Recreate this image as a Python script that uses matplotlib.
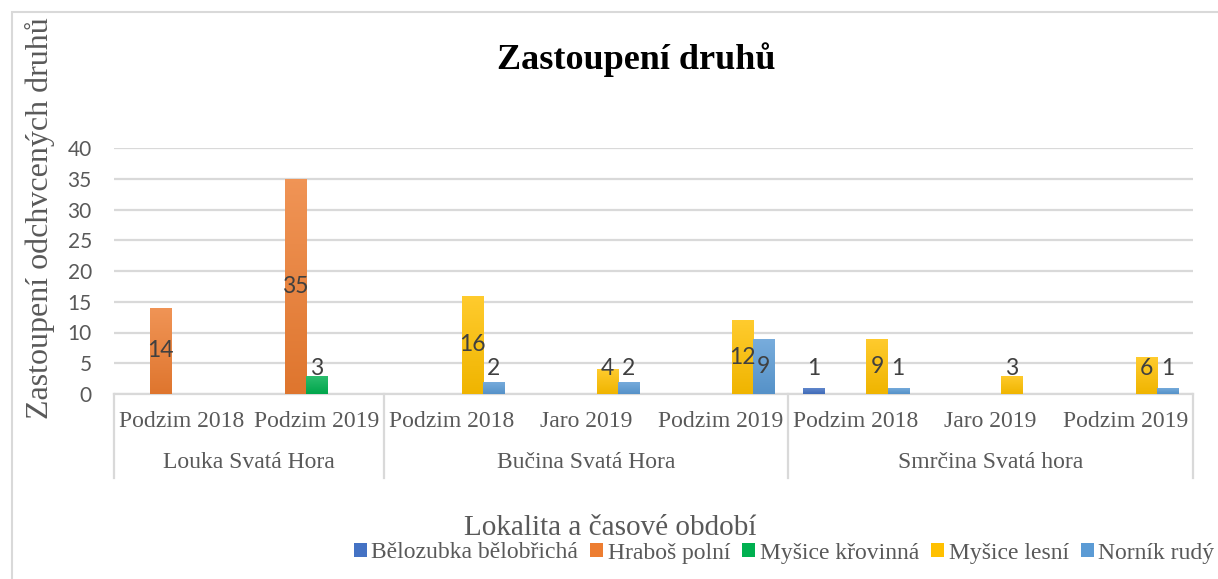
import numpy as np
import matplotlib
matplotlib.use("Agg")
from matplotlib import pyplot as plt
from matplotlib.colors import LinearSegmentedColormap, to_rgb
from matplotlib.patches import Patch, Rectangle
import matplotlib.transforms as mtransforms

# data
periods = ["Podzim 2018", "Podzim 2019",
           "Podzim 2018", "Jaro 2019", "Podzim 2019",
           "Podzim 2018", "Jaro 2019", "Podzim 2019"]
localities = ["Louka Svatá Hora", "Bučina Svatá Hora", "Smrčina Svatá hora"]
locality_sizes = [2, 3, 3]

species = ["Bělozubka bělobřichá", "Hraboš polní", "Myšice křovinná",
           "Myšice lesní", "Norník rudý"]
belozubka = [0, 0, 0, 0, 0, 1, 0, 0]
hrabos = [14, 35, 0, 0, 0, 0, 0, 0]
mysice_krovinna = [0, 3, 0, 0, 0, 0, 0, 0]
mysice_lesni = [0, 0, 16, 4, 12, 9, 3, 6]
nornik = [0, 0, 2, 2, 9, 1, 0, 1]
series = [belozubka, hrabos, mysice_krovinna, mysice_lesni, nornik]

colors = ["#4472C4", "#ED7D31", "#00B050", "#FFC000", "#5B9BD5"]

SERIF = "Liberation Serif"
SANS = "Lato"
GRID = "#d9d9d9"
TEXT = "#595959"


def shade(c, f):
    r = np.array(to_rgb(c))
    if f > 0:
        return tuple(r + (1 - r) * f)
    return tuple(r * (1 + f))


fig = plt.figure(figsize=(12.18, 5.79), dpi=100)
ax = fig.add_axes([114 / 1218, 1 - 394 / 579, (1193 - 114) / 1218, (394 - 148) / 579])

x = np.arange(len(periods))
w = 0.157
for i, (vals, col) in enumerate(zip(series, colors)):
    bars = ax.bar(x + (i - 2) * w, vals, width=w, color=col, zorder=3)
    cmap = LinearSegmentedColormap.from_list("g", [shade(col, -0.06), shade(col, 0.18)])
    for b, v in zip(bars, vals):
        if v == 0:
            b.set_visible(False)
            continue
        x0, bw, h = b.get_x(), b.get_width(), b.get_height()
        im = ax.imshow(np.linspace(0, 1, 128).reshape(-1, 1), cmap=cmap,
                       extent=[x0, x0 + bw, 0, h], origin="lower",
                       aspect="auto", zorder=4)
        im.set_clip_path(b)
        ax.text(x0 + bw / 2, max(v / 2, 4.2), str(v), ha="center", va="center",
                fontsize=16.5, family=SANS, color="#404040", zorder=5)

ax.set_xlim(-0.5, len(periods) - 0.5)
ax.set_ylim(0, 40)
ax.set_yticks(range(0, 41, 5))
ax.yaxis.grid(True, color=GRID, linewidth=1.6, zorder=0)
ax.tick_params(axis="y", length=0, pad=16, labelsize=15, labelcolor=TEXT)
for lab in ax.get_yticklabels():
    lab.set_family(SANS)
ax.set_xticks([])
for s in ["top", "right", "left"]:
    ax.spines[s].set_visible(False)
ax.spines["bottom"].set_color(GRID)
ax.spines["bottom"].set_linewidth(1.6)

# two level category axis
trans = mtransforms.blended_transform_factory(ax.transData, ax.transAxes)
for xi, p in zip(x, periods):
    ax.text(xi, -0.11, p, transform=trans, ha="center", va="center",
            fontsize=17, family=SERIF, color=TEXT)
start = -0.5
bounds = [start]
for name, n in zip(localities, locality_sizes):
    ax.text(start + n / 2, -0.28, name, transform=trans, ha="center", va="center",
            fontsize=17, family=SERIF, color=TEXT)
    start += n
    bounds.append(start)
for bx in bounds:
    ax.plot([bx, bx], [0, -0.342], transform=trans, color=GRID, linewidth=1.6,
            clip_on=False)

fig.text(636 / 1218, 1 - 60 / 579, "Zastoupení druhů", ha="center", va="center",
         fontsize=26, fontweight="bold", family=SERIF, color="black")
fig.text(40 / 1218, 1 - 218 / 579, "Zastoupení odchvcených druhů", rotation=90,
         ha="center", va="center", fontsize=23, family=SERIF, color=TEXT)
fig.text(610 / 1218, 1 - 528 / 579, "Lokalita a časové období", ha="center",
         va="center", fontsize=21, family=SERIF, color=TEXT)

handles = [Patch(facecolor=c, edgecolor="none") for c in colors]
fig.legend(handles, species, loc="center", bbox_to_anchor=(784 / 1218, 1 - 553 / 579),
           ncol=5, frameon=False, prop={"family": SERIF, "size": 17},
           handlelength=0.55, handleheight=0.55, handletextpad=0.2,
           columnspacing=0.5, labelcolor=TEXT)

# chart border
fig.patches.append(Rectangle((12 / 1218, -0.1), 1.2, 1.1 - 12 / 579,
                             transform=fig.transFigure, fill=False,
                             edgecolor=GRID, linewidth=1.5))

fig.savefig("out.png", dpi=100)
